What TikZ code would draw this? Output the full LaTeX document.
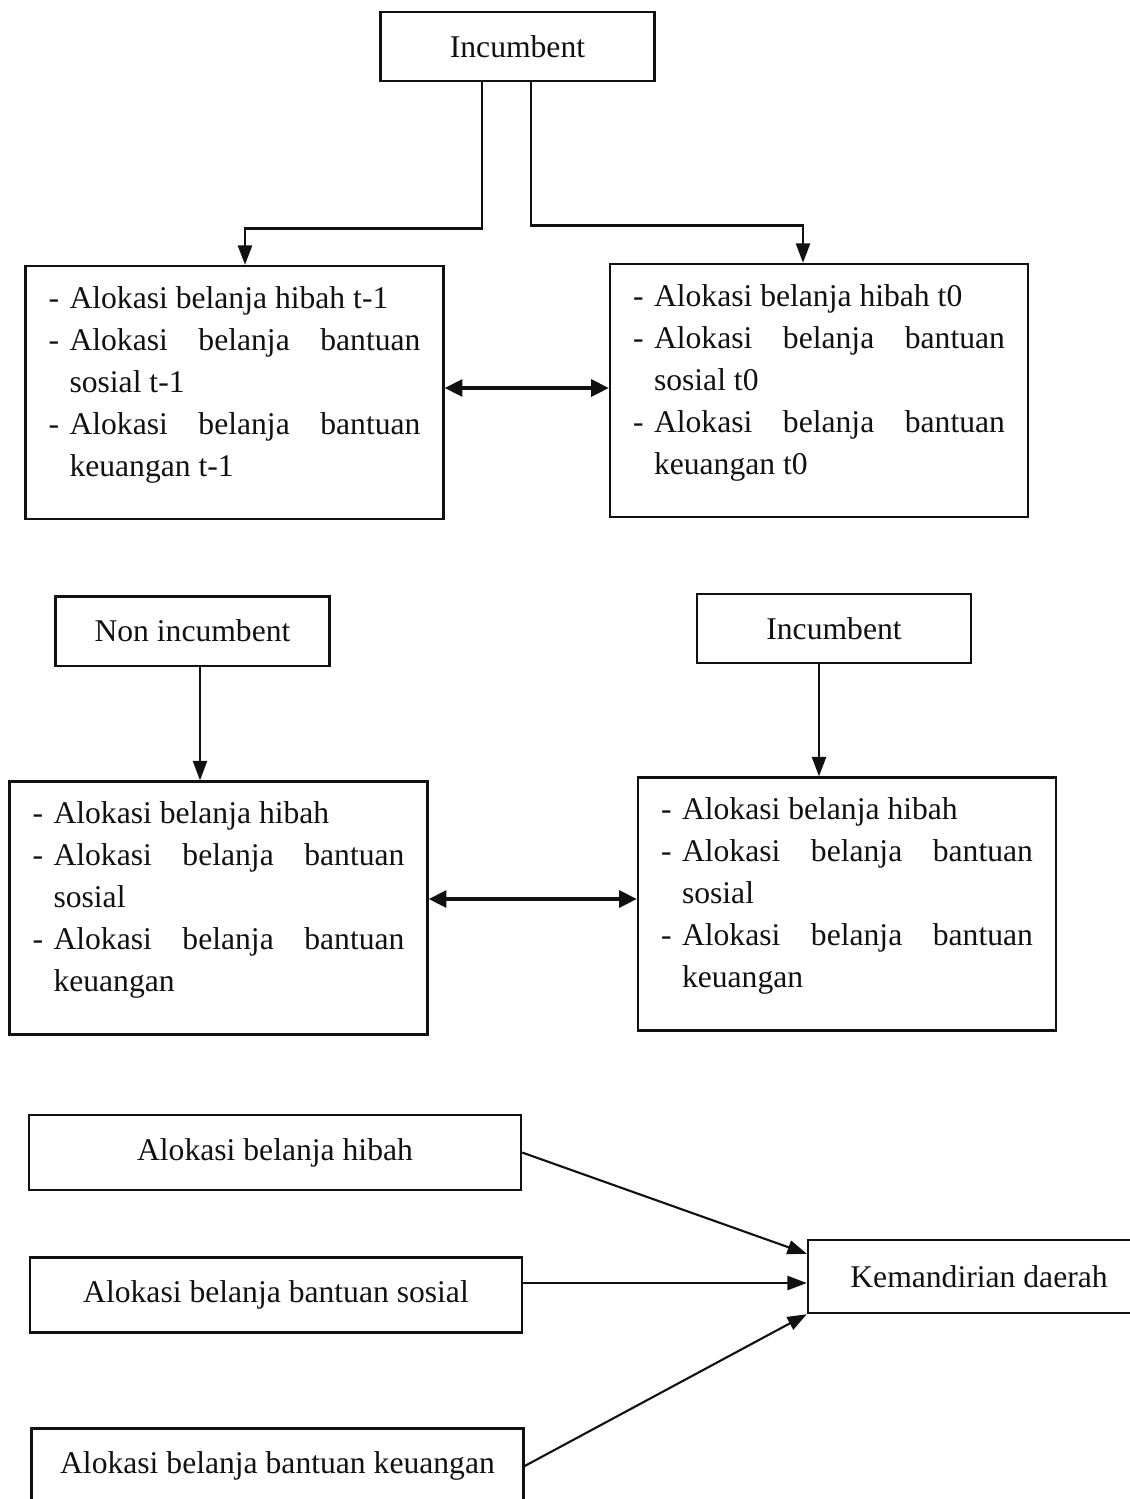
\documentclass[tikz,border=0pt]{standalone}
\usepackage{fontspec}
\setmainfont{Liberation Serif}
\usetikzlibrary{arrows.meta, positioning}
\definecolor{Ink}{HTML}{111111}
\newcommand{\itm}[1]{\par\hangindent=0.42cm\hangafter=1\noindent\makebox[0.42cm][l]{-}#1}

\begin{document}
\begin{tikzpicture}[x=0.02cm, y=-0.02cm,
    every node/.style={font=\fontsize{18pt}{23.9pt}\selectfont, text=Ink},
    box/.style={draw=Ink, line width=1.4pt, minimum width=5.48cm, minimum height=1.39cm},
    listbox/.style={draw=Ink, line width=1.4pt, text width=7.44cm, inner xsep=0.46cm,
      inner ysep=0pt, minimum height=5.06cm, align=justify},
    varbox/.style={draw=Ink, line width=1.4pt, minimum width=9.84cm, minimum height=1.5cm},
    arr/.style={draw=Ink, line width=1.2pt, -{Triangle[length=11pt,width=8pt]}},
    both/.style={draw=Ink, line width=2pt, {Triangle[length=10pt,width=9.5pt]}-{Triangle[length=10pt,width=9.5pt]}}]
      \useasboundingbox (0,0) rectangle (1130,1499);
      \clip (0,0) rectangle (1130,1499);
      % incumbent, t-1 vs t0
      \node[box] (inc1) at (517.5,46.5) {Incumbent};
      \node[listbox] (pre) at (234.5,392.5) {%
        \itm{Alokasi belanja hibah t-1}
        \itm{Alokasi belanja bantuan\linebreak sosial t-1}
        \itm{Alokasi belanja bantuan\linebreak keuangan t-1}\par\vspace{0.72cm}};
      \node[listbox] (now) at (819,390.5) {%
        \itm{Alokasi belanja hibah t0}
        \itm{Alokasi belanja bantuan\linebreak sosial t0}
        \itm{Alokasi belanja bantuan\linebreak keuangan t0}\par\vspace{0.72cm}};
      \draw[arr] ([xshift=-0.71cm]inc1.south) -- ++(0,146) -| ([xshift=0.21cm]pre.north);
      \draw[arr] ([xshift=0.27cm]inc1.south) -- ++(0,143) -| ([xshift=-0.32cm]now.north);
      \draw[both] ([yshift=0.09cm]pre.east) -- ([yshift=0.09cm]pre.east -| now.west);
      % non incumbent vs incumbent
      \node[box] (noninc) at (192.5,631) {Non incumbent};
      \node[box] (inc2) at (834,628.5) {Incumbent};
      \node[listbox] (ngrp) at (218.5,908) {%
        \itm{Alokasi belanja hibah}
        \itm{Alokasi belanja bantuan\linebreak sosial}
        \itm{Alokasi belanja bantuan\linebreak keuangan}\par\vspace{0.72cm}};
      \node[listbox] (igrp) at (847,904) {%
        \itm{Alokasi belanja hibah}
        \itm{Alokasi belanja bantuan\linebreak sosial}
        \itm{Alokasi belanja bantuan\linebreak keuangan}\par\vspace{0.72cm}};
      \draw[arr] ([xshift=0.15cm]noninc.south) -- ([xshift=0.15cm]noninc.south |- ngrp.north);
      \draw[arr] ([xshift=-0.3cm]inc2.south) -- ([xshift=-0.3cm]inc2.south |- igrp.north);
      \draw[both] ([yshift=0.18cm]ngrp.east) -- ([yshift=0.18cm]ngrp.east -| igrp.west);
      % effect on regional independence
      \node[varbox] (hibah) at (275,1152.5) {Alokasi belanja hibah};
      \node[varbox] (sosial) at (276,1295) {Alokasi belanja bantuan sosial};
      \node[varbox] (keu) at (277.5,1466) {Alokasi belanja bantuan keuangan};
      \node[draw=Ink, line width=1.4pt, minimum width=6.84cm, minimum height=1.46cm] (mandiri) at (979,1276.5) {Kemandirian daerah};
      \coordinate (sosout) at ([yshift=0.24cm]sosial.east);
      \draw[arr] (hibah.east) -- ([yshift=-0.3cm]mandiri.north west);
      \draw[arr] (sosout) -- (sosout -| mandiri.west);
      \draw[arr] (keu.east) -- (mandiri.south west);
    \end{tikzpicture}
\end{document}
